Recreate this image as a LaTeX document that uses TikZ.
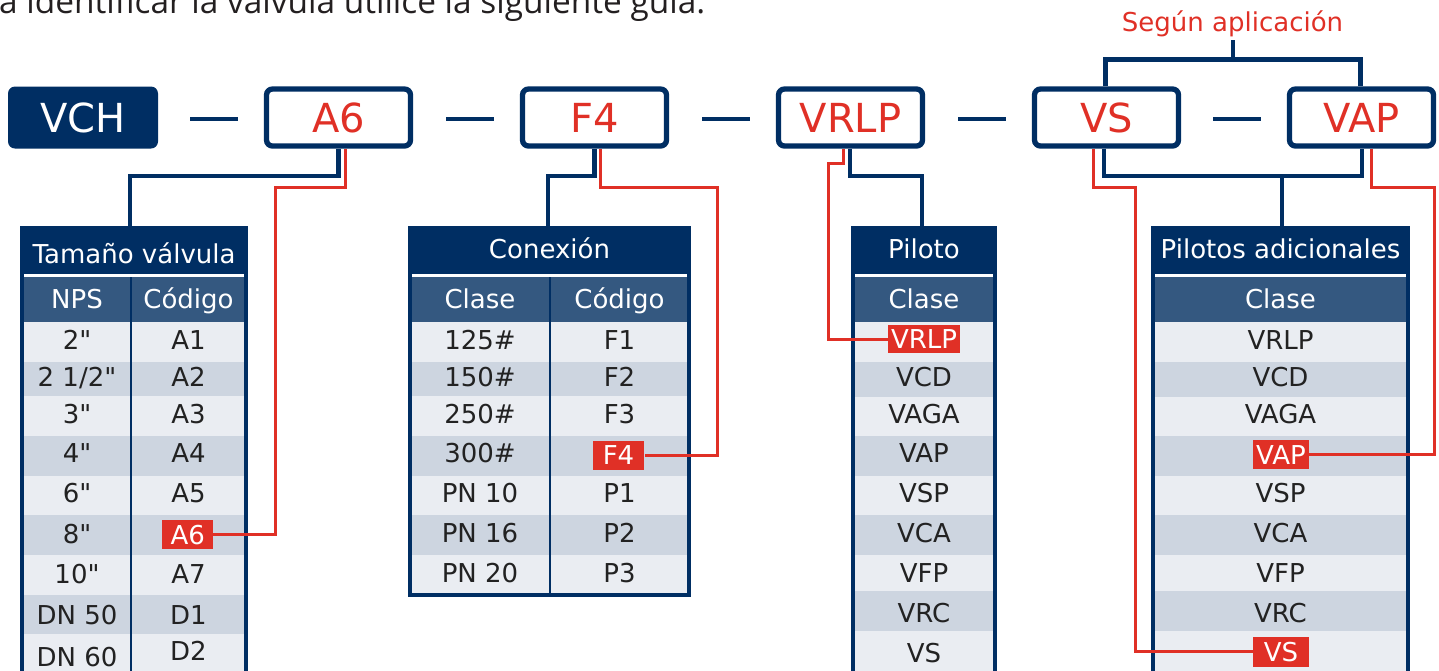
\documentclass[tikz,border=0pt]{standalone}
\usepackage{fontspec}
\setmainfont{DejaVu Sans}
\newfontfamily\topfont{Open Sans}
\usetikzlibrary{calc}
\definecolor{navy}{RGB}{0,46,99}
\definecolor{hdr}{RGB}{52,88,128}
\definecolor{rowA}{RGB}{234,237,242}
\definecolor{rowB}{RGB}{205,213,224}
\definecolor{redc}{RGB}{224,48,38}
\definecolor{txt}{RGB}{34,34,34}
\definecolor{topgray}{RGB}{35,31,32}
\newcommand{\tabfont}{\fontsize{26}{30}\selectfont}
\newcommand{\qq}{\textquotedbl}
\begin{document}
\begin{tikzpicture}[x=1pt,y=-1pt,
  codebox/.style={draw=navy, line width=5.3pt, rounded corners=6pt, minimum width=144pt, minimum height=57pt, inner sep=0pt, text=redc, fill=white, font=\fontsize{40}{44}\selectfont},
  vchbox/.style={fill=navy, rounded corners=7pt, minimum width=150pt, minimum height=62pt, inner sep=0pt, text=white, font=\fontsize{40}{44}\selectfont},
  sepline/.style={draw=navy, line width=4.5pt},
  navyline/.style={draw=navy, line width=4.7pt},
  redline/.style={draw=redc, line width=3pt},
  titlebar/.style={fill=navy, anchor=north west, inner sep=0pt, outer sep=0pt},
  ttext/.style={text=white, font=\tabfont, anchor=base, inner sep=0pt},
  cell/.style={text=txt, font=\tabfont, anchor=base, inner sep=0pt},
  hl/.style={fill=redc, text=white, font=\tabfont, inner sep=0pt},
  frame/.style={draw=navy, line width=3.3pt},
  coldiv/.style={draw=navy, line width=2.3pt}
]
\useasboundingbox (0,0) rectangle (1439,670);

% intro text
\node[anchor=base west, inner sep=0pt, text=topgray, font=\topfont\fontsize{33.4}{37}\selectfont] (intro) at (-1,13.5) {a identificar la válvula utilice la siguiente guía:};

% ---------- Table 1: Tamano valvula ----------
\node[titlebar, minimum width=224pt, minimum height=46pt] (t1) at (22,228) {};
\node[ttext] at (134,263) {Tamaño válvula};
\fill[hdr] (22,277) rectangle (246,322);
\node[ttext] at (77,308) {NPS};
\node[ttext] at (188.5,308) {Código};
\foreach \ya/\yb/\c in {322/361.5/rowA,361.5/396/rowB,396/436/rowA,436/476/rowB,476/515/rowA,515/555/rowB,555/595/rowA,595/634/rowB,634/680/rowA}
  \fill[\c] (22,\ya) rectangle (246,\yb);
\foreach \a/\b/\y in {{2\qq}/A1/349,{2 1/2\qq}/A2/386.5,{3\qq}/A3/423,{4\qq}/A4/462.5,{6\qq}/A5/502.5,{10\qq}/A7/583,{DN 50}/D1/624}{
  \node[cell] at (77,\y) {\a};
  \node[cell] at (188.5,\y) {\b};
}
\node[cell] at (77,543) {8\qq};
\node[cell] at (77,666) {DN 60};
\node[cell] at (188.5,660) {D2};
\node[hl, minimum width=51pt, minimum height=29pt] (hA6) at (187.75,534.6) {A6};
\draw[coldiv] (131,277) -- (131,680);
\draw[frame] (22,680) -- (22,228) -- (246,228) -- (246,680);

% ---------- Table 2: Conexion ----------
\node[titlebar, minimum width=279pt, minimum height=46pt] (t2) at (410,228) {};
\node[ttext] at (549.5,258) {Conexión};
\fill[hdr] (410,277) rectangle (689,322);
\node[ttext] at (480,308) {Clase};
\node[ttext] at (619.5,308) {Código};
\foreach \ya/\yb/\c in {322/361.5/rowA,361.5/396/rowB,396/436/rowA,436/476/rowB,476/515/rowA,515/555/rowB,555/595/rowA}
  \fill[\c] (410,\ya) rectangle (689,\yb);
\foreach \a/\b/\y in {125\#/F1/349.5,150\#/F2/386.5,250\#/F3/423,PN 10/P1/502.5,PN 16/P2/542.5,PN 20/P3/582.5}{
  \node[cell] at (480,\y) {\a};
  \node[cell] at (619.5,\y) {\b};
}
\node[cell] at (480,462.5) {300\#};
\node[hl, minimum width=51.6pt, minimum height=29pt] (hF4) at (618.5,455.5) {F4};
\draw[coldiv] (550,277) -- (550,595);
\draw[frame] (410,228) rectangle (689,595);

% ---------- Table 3: Piloto ----------
\node[titlebar, minimum width=142pt, minimum height=46pt] (t3) at (853,228) {};
\node[ttext] at (924,258) {Piloto};
\fill[hdr] (853,277) rectangle (995,322);
\node[ttext] at (924,308) {Clase};
\foreach \ya/\yb/\c in {322/361.5/rowA,361.5/396.5/rowB,396.5/436/rowA,436/476/rowB,476/515/rowA,515/555/rowB,555/591/rowA,591/631/rowB,631/680/rowA}
  \fill[\c] (853,\ya) rectangle (995,\yb);
\foreach \a/\y in {VCD/386.5,VAGA/423,VAP/462.5,VSP/502.5,VCA/542.5,VFP/582,VRC/622,VS/662}
  \node[cell] at (924,\y) {\a};
\node[hl, minimum width=72pt, minimum height=28pt] (hVRLP) at (924,339) {VRLP};
\draw[frame] (853,680) -- (853,228) -- (995,228) -- (995,680);

% ---------- Table 4: Pilotos adicionales ----------
\node[titlebar, minimum width=255pt, minimum height=46pt] (t4) at (1153,228) {};
\node[ttext] at (1280.5,258) {Pilotos adicionales};
\fill[hdr] (1153,277) rectangle (1408,322);
\node[ttext] at (1280.5,308) {Clase};
\foreach \ya/\yb/\c in {322/361.5/rowA,361.5/396.5/rowB,396.5/436/rowA,436/476/rowB,476/515/rowA,515/555/rowB,555/591/rowA,591/631/rowB,631/680/rowA}
  \fill[\c] (1153,\ya) rectangle (1408,\yb);
\foreach \a/\y in {VRLP/349,VCD/386.5,VAGA/423,VSP/502.5,VCA/542.5,VFP/582,VRC/622}
  \node[cell] at (1280.5,\y) {\a};
\node[hl, minimum width=56pt, minimum height=29pt] (hVAP) at (1281,454.7) {VAP};
\node[hl, minimum width=56pt, minimum height=30pt] (hVS) at (1281,651.7) {VS};
\draw[frame] (1153,680) -- (1153,228) -- (1408,228) -- (1408,680);

% ---------- Code boxes ----------
\node[vchbox] (vch) at (83,117.5) {VCH};
\node[codebox] (a6) at (338.5,117.5) {A6};
\node[codebox] (f4) at (594.5,117.5) {F4};
\node[codebox] (vrlp) at (850.5,117.5) {VRLP};
\node[codebox] (vs) at (1106.5,117.5) {VS};
\node[codebox] (vap) at (1361.5,117.5) {VAP};
\foreach \x in {190,446,702,958,1213}
  \draw[sepline] (\x,119) -- ++(48,0);

% bracket "Segun aplicacion"
\coordinate (b1) at (1105.5,59.5);
\coordinate (b2) at (1360.5,59.5);
\coordinate (bm) at (1233,59.5);
\draw[navyline] (b1 |- vs.north) -- (b1) -- (b2) -- (b2 |- vap.north);
\node[text=redc, font=\fontsize{26}{30}\selectfont, anchor=base, inner sep=0pt] (sa) at (1232.5,31.5) {Según aplicación};
\draw[navyline] (bm) -- (bm |- 0,40);

% ---------- navy connectors ----------
\coordinate (n1) at (130,176);
\draw[navyline] (a6.south) |- (n1) -- (n1 |- t1.north);
\coordinate (n2) at (548,176);
\draw[navyline] (f4.south) |- (n2) -- (n2 |- t2.north);
\coordinate (n3) at (922,176);
\draw[navyline] ($(vrlp.south)+(-0.5,0)$) |- (n3) -- (n3 |- t3.north);
\coordinate (n4) at (1104,176);
\coordinate (n5) at (1362,176);
\coordinate (n6) at (1282,176);
\draw[navyline] (n4 |- vs.south) -- (n4) -- (n5) -- (n5 |- vap.south);
\draw[navyline] (n6) -- (n6 |- t4.north);

% ---------- red connectors ----------
\coordinate (r1) at (275,187.5);
\draw[redline] ($(a6.south)+(6.5,0)$) |- (r1) -- (r1 |- hA6.east) -- (hA6.east);
\coordinate (r2) at (717,187);
\draw[redline] ($(f4.south)+(6,0)$) |- (r2) -- (r2 |- hF4.east) -- (hF4.east);
\coordinate (r3) at (828,163);
\draw[redline] ($(vrlp.south)+(-7.5,0)$) |- (r3) -- (r3 |- hVRLP.west) -- (hVRLP.west);
\coordinate (r4) at (1135,187);
\draw[redline] ($(vs.south)+(-13.5,0)$) |- (r4) -- (r4 |- hVS.west) -- (hVS.west);
\coordinate (r5) at (1434,187);
\draw[redline] ($(vap.south)+(9.5,0)$) |- (r5) -- (r5 |- hVAP.east) -- (hVAP.east);
\end{tikzpicture}
\end{document}
